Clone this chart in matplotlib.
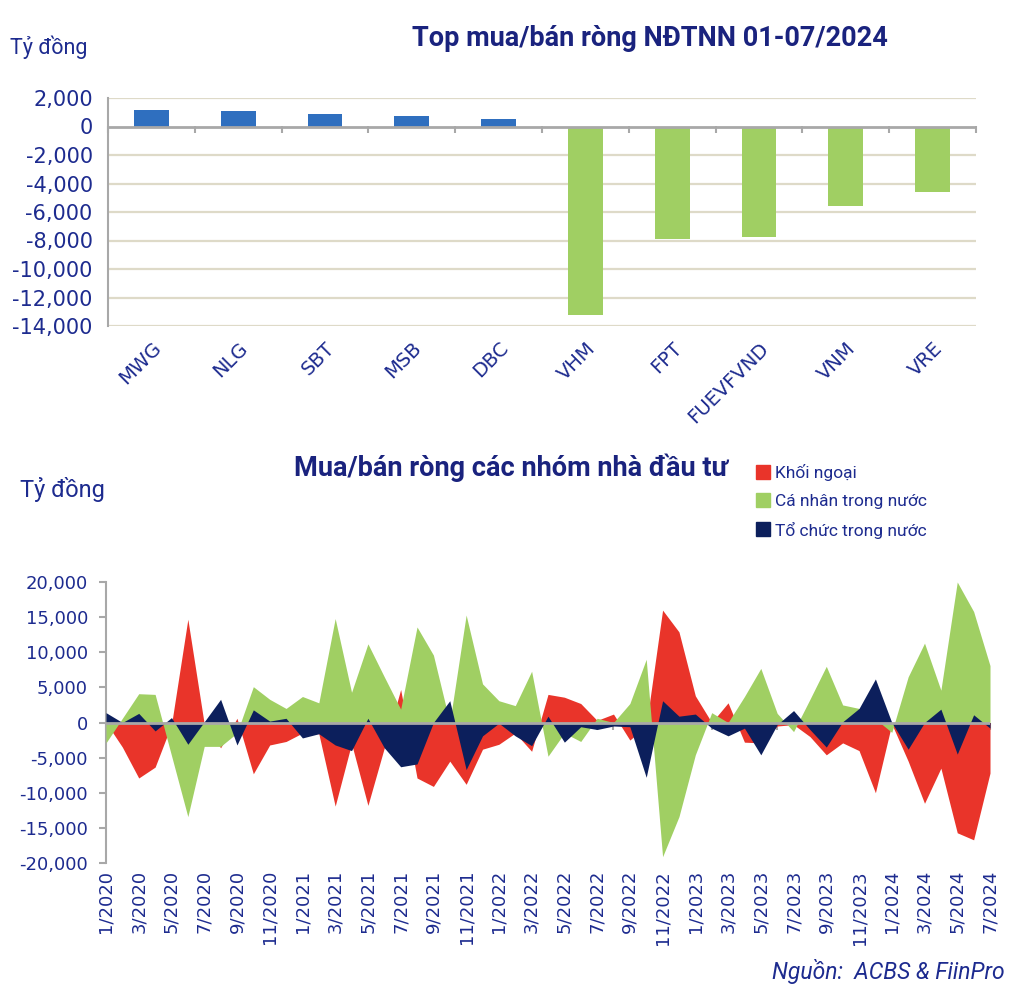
import matplotlib
matplotlib.use("Agg")
import matplotlib.pyplot as plt
from matplotlib.lines import Line2D
import numpy as np

# ---------------- data ----------------
top_categories = ["MWG", "NLG", "SBT", "MSB", "DBC", "VHM", "FPT", "FUEVFVND", "VNM", "VRE"]
top_values = [1170, 1100, 910, 730, 540, -13200, -7870, -7730, -5550, -4570]

month_labels = [f"{m}/{y}" for y in range(2020, 2025) for m in range(1, 13)][:55]

khoi_ngoai = [0, -3500, -7900, -6350, -300, 14700, -200, -3600, 600, -7300,
              -3200, -2700, -1500, -1600, -11900, -3000, -11800, -3600, 4700, -7900,
              -9100, -5500, -8800, -3800, -3100, -1500, -4100, 4000, 3600, 2700,
              300, 1200, -2500, -500, 16000, 12900, 3800, 0, 2800, -2800,
              -2900, -500, -300, -2000, -4600, -2900, -4000, -10000, -200, -5500,
              -11500, -6500, -15700, -16700, -7200]
ca_nhan = [-2900, 600, 4100, 4000, -4700, -13400, -3400, -3400, -1500, 5100,
           3300, 2000, 3700, 2800, 14800, 4300, 11200, 6500, 1900, 13600,
           9600, 0, 15300, 5500, 3100, 2400, 7300, -4800, -1500, -2700,
           600, 0, 2700, 9000, -19100, -13400, -4600, 1400, 0, 3700,
           7700, 1300, -1300, 3300, 8000, 2500, 2000, 500, -1400, 6500,
           11300, 4600, 20000, 15800, 8100]
to_chuc = [1400, 0, 1300, -1200, 700, -3100, 100, 3300, -3200, 1800,
           200, 600, -2200, -1600, -3200, -4000, 600, -3600, -6300, -5900,
           0, 3100, -6700, -1900, -100, -1900, -3300, 900, -2800, -600,
           -1000, -500, -600, -7800, 3100, 900, 1200, -800, -1900, -800,
           -4600, -300, 1700, -1000, -3500, 100, 2000, 6200, 0, -3800,
           0, 1900, -4500, 1100, -800]

series_names = ["Khối ngoại", "Cá nhân trong nước", "Tổ chức trong nước"]

# ---------------- style ----------------
NAVY_TXT = "#1d2b8f"
TITLE_C = "#1a237e"
BAR_BLUE = "#2f6fbf"
GREEN = "#a0cf63"
RED = "#e9342a"
DARK = "#0c1f5c"
GRID = "#dedac8"
AXIS = "#a8a8a8"

plt.rcParams["font.family"] = ["DejaVu Sans"]
W, H = 1036, 992
fig = plt.figure(figsize=(W / 100, H / 100), dpi=100)
fig.patch.set_facecolor("white")

def fx(px):
    return px / W

def fy(py):
    return 1 - py / H

# ================= TOP CHART =================
ax1 = fig.add_axes([fx(108), fy(326), fx(976) - fx(108), fy(98) - fy(326)])
xpos = np.arange(len(top_categories))
colors = [BAR_BLUE if v > 0 else GREEN for v in top_values]
ax1.bar(xpos, top_values, width=0.4, color=colors, zorder=3)
ax1.set_xlim(-0.5, len(top_categories) - 0.5)
ax1.set_ylim(-14000, 2000)
yt = list(range(-14000, 2001, 2000))
ax1.set_yticks(yt)
ax1.set_yticklabels([f"{v:,}" for v in yt])
for v in yt:
    if v != 0:
        ax1.axhline(v, color=GRID, lw=1.6, zorder=1)
ax1.axhline(0, color=AXIS, lw=2.0, zorder=4)
for s in ["top", "right", "bottom"]:
    ax1.spines[s].set_visible(False)
ax1.spines["left"].set_color(AXIS)
ax1.spines["left"].set_linewidth(1.5)
ax1.tick_params(axis="y", length=0, pad=11, labelsize=15, labelcolor=NAVY_TXT)
ax1.set_xticks(xpos)
ax1.set_xticklabels(top_categories)
ax1.tick_params(axis="x", length=0, pad=9, labelsize=14, labelcolor=NAVY_TXT)
for lab in ax1.get_xticklabels():
    lab.set_rotation(45)
    lab.set_ha("right")
    lab.set_va("top")
    lab.set_rotation_mode("anchor")

sec1 = ax1.secondary_xaxis(14000 / 16000)
sec1.set_alignment("bottom")
sec1.set_xticks(np.arange(len(top_categories) + 1) - 0.5)
sec1.tick_params(axis="x", length=5, width=1.5, color=AXIS, labelbottom=False, labeltop=False)
for s in sec1.spines.values():
    s.set_visible(False)

fig.text(fx(650), fy(38), "Top mua/bán ròng NĐTNN 01-07/2024", ha="center", va="center",
         fontsize=19.5, fontweight="bold", color=TITLE_C, family=["Roboto", "DejaVu Sans"])
fig.text(fx(10), fy(47), "Tỷ đồng", ha="left", va="center", fontsize=15.5,
         color=NAVY_TXT, family=["Roboto", "DejaVu Sans"])

# ================= BOTTOM CHART =================
ax2 = fig.add_axes([fx(106), fy(863), fx(990) - fx(106), fy(582) - fy(863)])
months = np.arange(len(month_labels))
ax2.fill_between(months, 0, khoi_ngoai, color=RED, lw=0, zorder=2)
ax2.fill_between(months, 0, ca_nhan, color=GREEN, lw=0, zorder=3)
ax2.fill_between(months, 0, to_chuc, color=DARK, lw=0, zorder=4)
ax2.set_xlim(0, len(month_labels) - 1)
ax2.set_ylim(-20000, 20000)
yt2 = list(range(-20000, 20001, 5000))
ax2.set_yticks(yt2)
ax2.set_yticklabels([f"{v:,}" for v in yt2])
ax2.tick_params(axis="y", length=5, width=1.5, color=AXIS, pad=8, labelsize=13, labelcolor=NAVY_TXT)
for s in ["top", "right", "bottom"]:
    ax2.spines[s].set_visible(False)
ax2.spines["left"].set_color(AXIS)
ax2.spines["left"].set_linewidth(1.5)
ax2.set_xticks(months[::2])
ax2.set_xticklabels(month_labels[::2], rotation=90)
ax2.tick_params(axis="x", length=0, pad=5, labelsize=13, labelcolor=NAVY_TXT)

sec2 = ax2.secondary_xaxis(0.5)
sec2.set_alignment("bottom")
sec2.set_xticks(months)
sec2.tick_params(axis="x", length=5, width=1.5, color=AXIS, labelbottom=False, labeltop=False)
for s in sec2.spines.values():
    s.set_visible(False)
ax2.axhline(0, color=AXIS, lw=2.0, zorder=5)

fig.text(fx(511), fy(468), "Mua/bán ròng các nhóm nhà đầu tư", ha="center", va="center",
         fontsize=19.5, fontweight="bold", color=TITLE_C, family=["Roboto", "DejaVu Sans"])
fig.text(fx(20), fy(490), "Tỷ đồng", ha="left", va="center", fontsize=17,
         color=NAVY_TXT, family=["Roboto", "DejaVu Sans"])

handles = [Line2D([], [], ls="", marker="s", markersize=10, color=c) for c in (RED, GREEN, DARK)]
leg = fig.legend(handles, series_names, loc="upper left", bbox_to_anchor=(fx(747), fy(455)),
                 frameon=False, borderpad=0, handlelength=0.8, handletextpad=0.3,
                 labelspacing=0.74, prop={"family": ["Roboto", "DejaVu Sans"], "size": 12.5})
for t in leg.get_texts():
    t.set_color(NAVY_TXT)

fig.text(fx(1005), fy(972), "Nguồn:  ACBS & FiinPro", ha="right", va="center", fontsize=16.5,
         style="italic", color=NAVY_TXT, family=["Roboto", "DejaVu Sans"])

fig.savefig("out.png", dpi=100, facecolor="white")
